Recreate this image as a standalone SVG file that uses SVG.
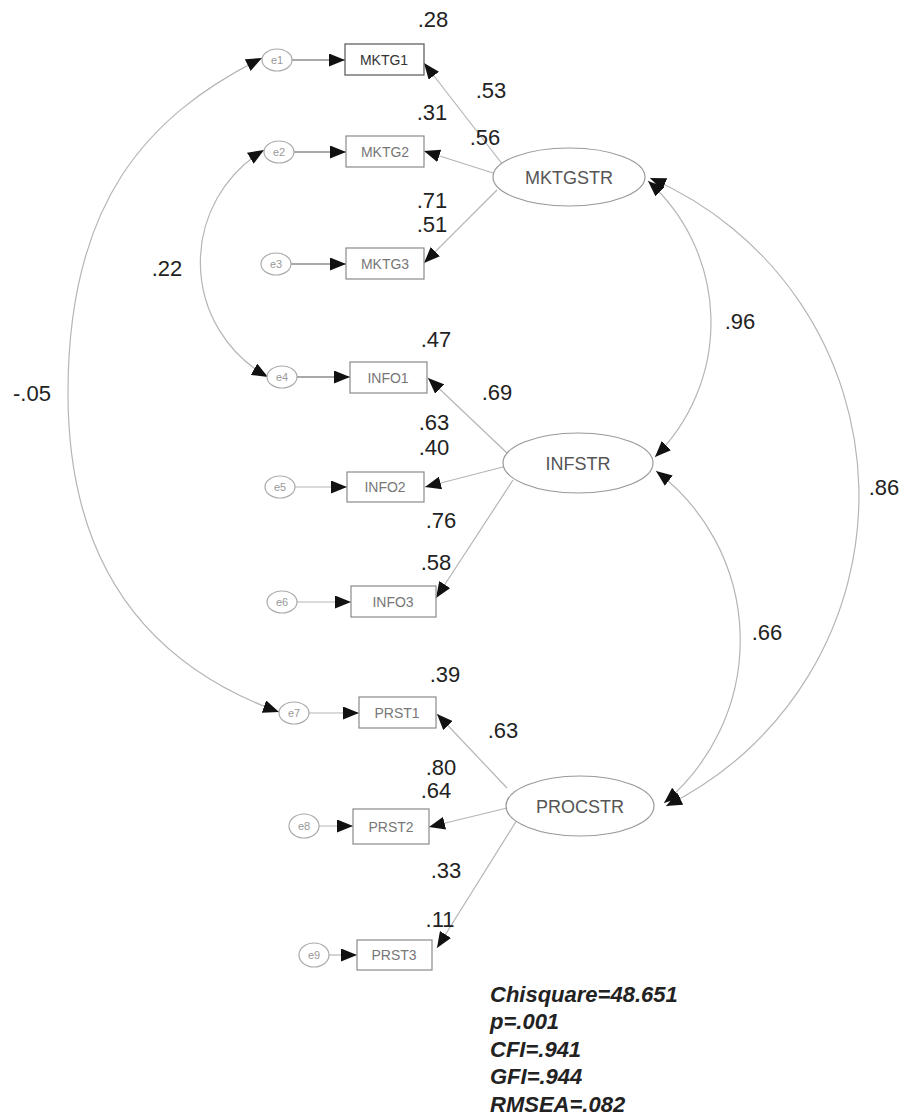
<svg xmlns="http://www.w3.org/2000/svg" width="904" height="1119" viewBox="0 0 904 1119">
<style>
.obs{fill:#fff;stroke:#8a8a8a;stroke-width:1.2}
.obt{font-family:"Liberation Sans",Arial,sans-serif;font-size:14px;fill:#777;text-anchor:middle}
.err{fill:#fff;stroke:#aaa;stroke-width:1.2}
.ert{font-family:"Liberation Sans",Arial,sans-serif;font-size:11px;fill:#999;text-anchor:middle}
.lat{fill:#fff;stroke:#999;stroke-width:1.2}
.lt{font-family:"Liberation Sans",Arial,sans-serif;font-size:18px;fill:#555;text-anchor:middle}
.ln{fill:none;stroke:#b5b5b5;stroke-width:1.2}
.dk{stroke:#555}
.num{font-family:"Liberation Sans",Arial,sans-serif;font-size:22px;fill:#222;text-anchor:middle}
.fit{font-family:"Liberation Sans",Arial,sans-serif;font-size:22px;font-style:italic;font-weight:bold;fill:#222}
</style>
<defs>
<marker id="ah" viewBox="0 0 16 13" refX="16" refY="6.5" markerWidth="16" markerHeight="13" markerUnits="userSpaceOnUse" orient="auto-start-reverse">
<path d="M0,0 L16,6.5 L0,13 Z" fill="#111"/>
</marker>
</defs>
<rect width="904" height="1119" fill="#fff"/>

<g id="connectors">
<!-- error to indicator -->
<line class="ln dk" x1="292" y1="60" x2="345" y2="60" marker-end="url(#ah)"/>
<line class="ln dk" x1="294" y1="152" x2="346" y2="152" marker-end="url(#ah)"/>
<line class="ln dk" x1="291" y1="264" x2="346" y2="264" marker-end="url(#ah)"/>
<line class="ln dk" x1="297" y1="377" x2="350" y2="377" marker-end="url(#ah)"/>
<line class="ln" x1="295" y1="487" x2="347" y2="487" marker-end="url(#ah)"/>
<line class="ln" x1="297" y1="602" x2="351" y2="602" marker-end="url(#ah)"/>
<line class="ln" x1="309" y1="713" x2="359" y2="713" marker-end="url(#ah)"/>
<line class="ln" x1="319" y1="826" x2="353" y2="826" marker-end="url(#ah)"/>
<line class="ln" x1="329" y1="955" x2="357" y2="955" marker-end="url(#ah)"/>
<!-- loadings -->
<line class="ln" x1="503" y1="165" x2="424" y2="63" marker-end="url(#ah)"/>
<line class="ln" x1="493" y1="173" x2="424" y2="151" marker-end="url(#ah)"/>
<line class="ln" x1="497" y1="190" x2="424" y2="263" marker-end="url(#ah)"/>
<line class="ln" x1="507" y1="453" x2="428" y2="378" marker-end="url(#ah)"/>
<line class="ln" x1="503" y1="467" x2="425" y2="487" marker-end="url(#ah)"/>
<line class="ln" x1="513" y1="480" x2="436" y2="598" marker-end="url(#ah)"/>
<line class="ln" x1="507" y1="788" x2="437" y2="714" marker-end="url(#ah)"/>
<line class="ln" x1="507" y1="808" x2="429" y2="827" marker-end="url(#ah)"/>
<line class="ln" x1="517" y1="820" x2="437" y2="948" marker-end="url(#ah)"/>
<!-- covariances -->
<path class="ln" d="M262,58 C146,116 68,203 68,393 C68,583 166,671 279,712" marker-start="url(#ah)" marker-end="url(#ah)"/>
<path class="ln" d="M264,150 A131,131 0 0 0 268,377" marker-start="url(#ah)" marker-end="url(#ah)"/>
<path class="ln" d="M648,181 A190,190 0 0 1 655,457" marker-start="url(#ah)" marker-end="url(#ah)"/>
<path class="ln" d="M656,471 A212,212 0 0 1 664,803" marker-start="url(#ah)" marker-end="url(#ah)"/>
<path class="ln" d="M650,178 A346,346 0 0 1 666,806" marker-start="url(#ah)" marker-end="url(#ah)"/>
</g>

<g id="e1"><ellipse class="err" cx="277" cy="60" rx="15" ry="11"/><text class="ert" x="277" y="64">e1</text></g>
<g id="e2"><ellipse class="err" cx="279" cy="152" rx="15" ry="11"/><text class="ert" x="279" y="156">e2</text></g>
<g id="e3"><ellipse class="err" cx="276" cy="264" rx="15" ry="11"/><text class="ert" x="276" y="268">e3</text></g>
<g id="e4"><ellipse class="err" cx="282" cy="377" rx="15" ry="11"/><text class="ert" x="282" y="381">e4</text></g>
<g id="e5"><ellipse class="err" cx="280" cy="487" rx="15" ry="11"/><text class="ert" x="280" y="491">e5</text></g>
<g id="e6"><ellipse class="err" cx="282" cy="602" rx="15" ry="11"/><text class="ert" x="282" y="606">e6</text></g>
<g id="e7"><ellipse class="err" cx="294" cy="713" rx="15" ry="11"/><text class="ert" x="294" y="717">e7</text></g>
<g id="e8"><ellipse class="err" cx="304" cy="826" rx="15" ry="12"/><text class="ert" x="304" y="830">e8</text></g>
<g id="e9"><ellipse class="err" cx="314" cy="955" rx="15" ry="12"/><text class="ert" x="314" y="959">e9</text></g>

<g id="MKTG1"><rect class="obs" x="345" y="44" width="79" height="31" style="stroke:#555"/><text class="obt" x="384" y="65" style="fill:#333">MKTG1</text></g>
<g id="MKTG2"><rect class="obs" x="346" y="136" width="78" height="31"/><text class="obt" x="385" y="157">MKTG2</text></g>
<g id="MKTG3"><rect class="obs" x="346" y="248" width="78" height="31"/><text class="obt" x="385" y="269">MKTG3</text></g>
<g id="INFO1"><rect class="obs" x="350" y="362" width="77" height="31"/><text class="obt" x="388" y="383">INFO1</text></g>
<g id="INFO2"><rect class="obs" x="347" y="472" width="77" height="30"/><text class="obt" x="385" y="492">INFO2</text></g>
<g id="INFO3"><rect class="obs" x="351" y="586" width="85" height="31"/><text class="obt" x="393" y="607">INFO3</text></g>
<g id="PRST1"><rect class="obs" x="359" y="697" width="77" height="31"/><text class="obt" x="397" y="718">PRST1</text></g>
<g id="PRST2"><rect class="obs" x="353" y="809" width="76" height="35"/><text class="obt" x="391" y="832">PRST2</text></g>
<g id="PRST3"><rect class="obs" x="357" y="940" width="75" height="30"/><text class="obt" x="394" y="960">PRST3</text></g>

<g id="MKTGSTR"><ellipse class="lat" cx="569" cy="177" rx="76" ry="29"/><text class="lt" x="569" y="184">MKTGSTR</text></g>
<g id="INFSTR"><ellipse class="lat" cx="578" cy="463" rx="75" ry="30"/><text class="lt" x="578" y="470">INFSTR</text></g>
<g id="PROCSTR"><ellipse class="lat" cx="580" cy="806" rx="74" ry="30"/><text class="lt" x="580" y="813">PROCSTR</text></g>

<g id="labels">
<text class="num" x="433" y="27">.28</text>
<text class="num" x="491" y="98">.53</text>
<text class="num" x="432" y="120">.31</text>
<text class="num" x="485" y="145">.56</text>
<text class="num" x="432" y="208">.71</text>
<text class="num" x="432" y="232">.51</text>
<text class="num" x="167" y="276">.22</text>
<text class="num" x="436" y="347">.47</text>
<text class="num" x="497" y="400">.69</text>
<text class="num" x="434" y="430">.63</text>
<text class="num" x="434" y="455">.40</text>
<text class="num" x="441" y="528">.76</text>
<text class="num" x="436" y="570">.58</text>
<text class="num" x="32" y="401">-.05</text>
<text class="num" x="740" y="329">.96</text>
<text class="num" x="884" y="495">.86</text>
<text class="num" x="767" y="640">.66</text>
<text class="num" x="445" y="682">.39</text>
<text class="num" x="503" y="738">.63</text>
<text class="num" x="441" y="775">.80</text>
<text class="num" x="436" y="798">.64</text>
<text class="num" x="446" y="878">.33</text>
<text class="num" x="440" y="927">.11</text>
</g>
<g id="fit">
<text class="fit" x="490" y="1002">Chisquare=48.651</text>
<text class="fit" x="490" y="1029">p=.001</text>
<text class="fit" x="490" y="1057">CFI=.941</text>
<text class="fit" x="490" y="1084">GFI=.944</text>
<text class="fit" x="490" y="1112">RMSEA=.082</text>
</g>
</svg>
